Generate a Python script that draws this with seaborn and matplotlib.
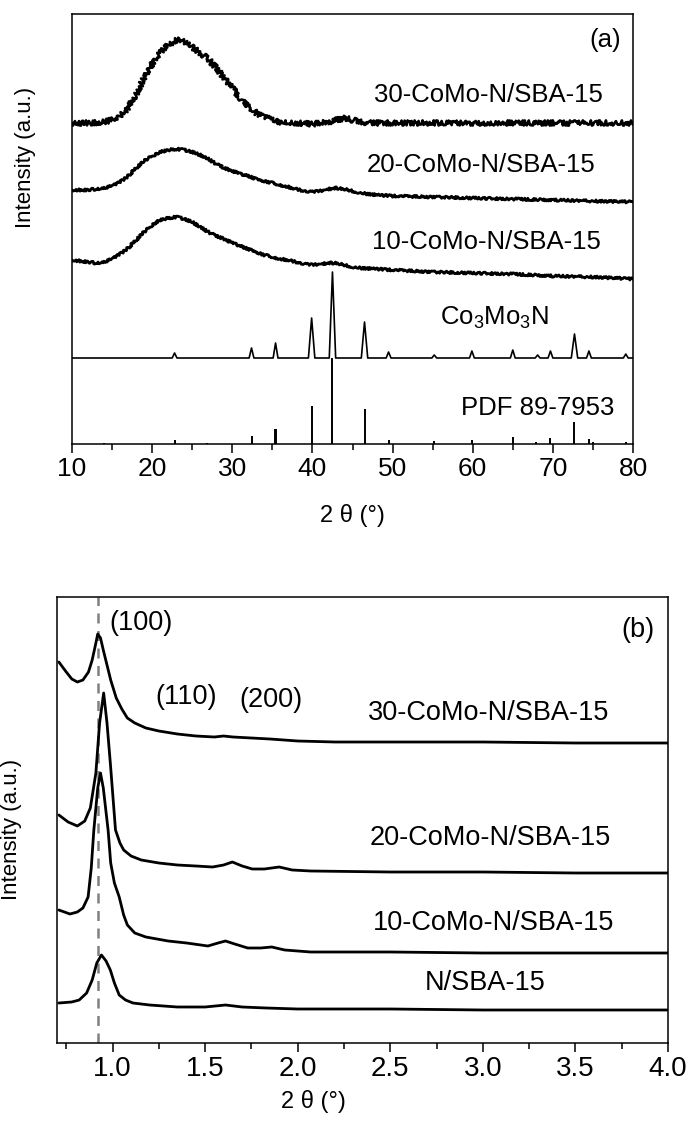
import numpy as np
import pandas as pd
import matplotlib
matplotlib.use("Agg")
import matplotlib.pyplot as plt
import seaborn as sns

# ---------------- Panel (a): wide-angle XRD (a.u.) ----------------
a_x_30 = [10, 12, 14, 15, 16, 17, 18, 19, 20, 21, 22, 23, 23.5, 24, 25, 26, 27, 28, 29, 30,
          31, 32, 33, 34, 35, 36, 38, 40, 42, 43, 44, 45, 46, 48, 50, 55, 60, 65, 70, 75, 80]
a_y_30 = [321, 321, 322, 324, 328, 336, 350, 366, 380, 391, 399, 404, 404, 402, 397, 391, 385, 376, 366, 356,
          346, 338, 331, 327, 324, 322, 321, 320, 322, 324, 326, 324, 322, 321, 321, 321, 321, 321, 321, 321, 321]

a_x_20 = [10, 12, 14, 15, 16, 17, 18, 19, 20, 21, 22, 23, 24, 25, 26, 27, 28, 29, 30, 31, 32, 33, 34,
          35, 36, 37, 38, 39, 40, 41, 42, 43, 44, 45, 46, 48, 50, 55, 60, 65, 70, 75, 80]
a_y_20 = [254, 254, 256, 258, 262, 268, 276, 283, 288, 292, 294, 295, 294, 292, 289, 285, 280, 276, 273, 270, 268, 265, 263,
          261, 259, 257, 255, 253, 252, 253, 255, 256, 255, 253, 251, 249, 248, 247, 246, 245, 244, 243, 242]

a_x_10 = [10, 12, 13, 14, 15, 16, 17, 18, 19, 20, 21, 22, 23, 24, 25, 26, 27, 28, 29, 30, 31, 32, 33, 34,
          35, 36, 37, 38, 39, 40, 41, 42, 43, 44, 45, 46, 48, 50, 55, 60, 65, 70, 75, 80]
a_y_10 = [184, 182, 181, 182, 185, 190, 196, 204, 212, 219, 224, 226, 227, 225, 222, 217, 212, 208, 205, 201, 198, 195, 192, 189,
          187, 185, 184, 182, 180, 179, 180, 181, 181, 179, 177, 176, 175, 174, 172, 171, 170, 168, 167, 165]

co_x = [10, 22.5, 22.8, 23.1, 32.1, 32.4, 32.7, 35.1, 35.4, 35.7, 39.5, 39.9, 40.3, 42.1, 42.5, 42.9,
        46.1, 46.5, 46.9, 49.2, 49.5, 49.8, 54.9, 55.2, 55.5, 59.6, 59.9, 60.2, 64.7, 65.0, 65.3,
        67.8, 68.1, 68.4, 69.4, 69.7, 70.0, 72.3, 72.7, 73.1, 74.2, 74.5, 74.8, 78.8, 79.1, 79.4, 80]
co_y = [86, 86, 91, 86, 86, 96, 86, 86, 101, 86, 86, 126, 86, 86, 172, 86,
        86, 122, 86, 86, 92, 86, 86, 89, 86, 86, 93, 86, 86, 94, 86,
        86, 89, 86, 86, 93, 86, 86, 110, 86, 86, 93, 86, 86, 90, 86, 86]

pdf_pos = [14.0, 22.8, 26.8, 32.4, 35.3, 35.5, 39.9, 42.5, 46.5, 49.5, 55.2, 59.9, 65.0, 67.9, 69.7, 72.7, 74.5, 75.0, 79.1]
pdf_h = [1, 4, 1.5, 8, 15, 15, 38, 86, 35, 4, 3, 4, 7, 2, 6, 22, 5, 2, 2]

a_labels = ["30-CoMo-N/SBA-15", "20-CoMo-N/SBA-15", "10-CoMo-N/SBA-15", "Co$_3$Mo$_3$N", "PDF 89-7953", "(a)"]
a_label_x = [62.0, 61.1, 61.7, 62.7, 68.1, 76.5]
a_label_y = [349, 279, 202, 126, 36, 404]

# ---------------- Panel (b): small-angle XRD ----------------
b_x_30 = [0.71, 0.75, 0.78, 0.81, 0.84, 0.87, 0.89, 0.91, 0.92, 0.935, 0.95, 0.97, 0.99, 1.02, 1.05, 1.08,
          1.12, 1.18, 1.25, 1.35, 1.45, 1.55, 1.6, 1.65, 1.75, 1.85, 2.0, 2.2, 2.5, 3.0, 3.5, 4.0]
b_y_30 = [381, 371, 364, 361, 363, 371, 383, 400, 409, 405, 393, 378, 363, 345, 334, 325,
          320, 315, 312, 309, 307, 306, 307, 306, 305, 304, 302, 301, 301, 301, 300, 300]

b_x_20 = [0.71, 0.76, 0.81, 0.85, 0.88, 0.91, 0.93, 0.952, 0.97, 0.988, 1.016, 1.04, 1.06, 1.1, 1.155, 1.25,
          1.35, 1.45, 1.54, 1.6, 1.647, 1.7, 1.755, 1.82, 1.9, 1.97, 2.07, 2.5, 3.0, 3.5, 4.0]
b_y_20 = [228, 221, 217, 222, 235, 270, 320, 350, 320, 280, 213, 200, 193, 187, 183, 180,
          178, 177, 176, 178, 181, 177, 174, 174, 176, 173, 172, 171, 171, 170, 170]

b_x_10 = [0.71, 0.77, 0.81, 0.84, 0.868, 0.885, 0.899, 0.92, 0.935, 0.95, 0.976, 0.99, 1.01, 1.036, 1.06, 1.08,
          1.12, 1.18, 1.3, 1.4, 1.515, 1.57, 1.61, 1.66, 1.73, 1.8, 1.86, 1.93, 2.07, 2.5, 3.0, 4.0]
b_y_10 = [133, 129, 131, 135, 146, 175, 213, 255, 270, 255, 213, 180, 160, 146, 128, 118,
          110, 106, 102, 100, 97, 100, 102, 99, 95, 95, 96, 93, 91, 91, 90, 90]

b_x_n = [0.71, 0.78, 0.82, 0.86, 0.89, 0.915, 0.94, 0.965, 0.988, 1.01, 1.036, 1.07, 1.11, 1.2, 1.35, 1.5,
         1.61, 1.7, 1.83, 2.0, 2.5, 3.0, 4.0]
b_y_n = [40, 41, 43, 50, 63, 80, 88, 82, 73, 60, 48, 43, 40, 38, 36, 36,
         38, 36, 35, 34, 34, 33, 33]

b_dash_x = 0.92
b_labels = ["(100)", "(110)", "(200)", "30-CoMo-N/SBA-15", "20-CoMo-N/SBA-15", "10-CoMo-N/SBA-15", "N/SBA-15", "(b)"]
b_label_x = [1.155, 1.395, 1.855, 3.03, 3.04, 3.06, 3.01, 3.84]
b_label_y = [420, 346, 343, 330, 205, 120, 60, 413]

# ---------------- style ----------------
sns.set_theme(style="ticks")
plt.rcParams['font.family'] = ['Liberation Sans', 'DejaVu Sans']
plt.rcParams['mathtext.fontset'] = 'custom'
plt.rcParams['mathtext.rm'] = 'Liberation Sans'
plt.rcParams['mathtext.it'] = 'Liberation Sans:italic'
plt.rcParams['text.color'] = 'black'
plt.rcParams['axes.labelcolor'] = 'black'
plt.rcParams['xtick.color'] = 'black'
plt.rcParams['ytick.color'] = 'black'

W, H = 691, 1122
fig = plt.figure(figsize=(W / 100, H / 100), dpi=100)
ax_a = fig.add_axes([72 / W, (H - 444) / H, 561 / W, 430 / H])
ax_b = fig.add_axes([57 / W, (H - 1043) / H, 611 / W, 446 / H])


def style_axes(ax, tick_fs):
    for s in ax.spines.values():
        s.set_visible(True)
        s.set_color('black')
        s.set_linewidth(1.1)
    ax.set_yticks([])
    ax.tick_params(axis='x', which='major', direction='out', length=6.5, width=1.1,
                   labelsize=tick_fs, colors='black', labelcolor='black', pad=3)
    ax.tick_params(axis='x', which='minor', direction='out', length=4.3, width=1.1, colors='black')


def line(ax, xs, ys, lw, sketch=None):
    df = pd.DataFrame({"x": xs, "y": ys})
    sns.lineplot(data=df, x="x", y="y", ax=ax, color="black", lw=lw, sort=False, estimator=None)
    ln = ax.get_lines()[-1]
    if sketch is not None:
        ln.set_sketch_params(*sketch)
    return ln


# panel (a)
line(ax_a, a_x_30, a_y_30, 1.9, sketch=(2.6, 1.5, 3.0))
line(ax_a, a_x_20, a_y_20, 2.0, sketch=(1.2, 2.0, 3.0))
line(ax_a, a_x_10, a_y_10, 2.0, sketch=(1.2, 2.0, 3.0))
line(ax_a, co_x, co_y, 1.2)
ax_a.vlines(pdf_pos, 0, pdf_h, colors="black", lw=1.4)

ax_a.set_xlim(10, 80)
ax_a.set_ylim(0, 430)
ax_a.set_xticks(np.arange(10, 81, 10))
ax_a.set_xticks(np.arange(15, 80, 10), minor=True)
style_axes(ax_a, 19)
ax_a.set_xlabel("2 θ (°)", fontsize=17, color="black")
ax_a.set_ylabel("Intensity (a.u.)", fontsize=16, color="black")
ax_a.xaxis.set_label_coords(0.5, -0.140)
ax_a.yaxis.set_label_coords(-0.064, 0.667)
for t, x, y in zip(a_labels, a_label_x, a_label_y):
    ax_a.text(x, y, t, ha="center", va="center", fontsize=18.5, color="black")

# panel (b)
ax_b.axvline(b_dash_x, color="#808080", lw=1.8, ls=(0, (4, 3)))
line(ax_b, b_x_30, b_y_30, 2.0)
line(ax_b, b_x_20, b_y_20, 2.0)
line(ax_b, b_x_10, b_y_10, 2.0)
line(ax_b, b_x_n, b_y_n, 2.0)

ax_b.set_xlim(0.7, 4.0)
ax_b.set_ylim(0, 446)
ax_b.set_xticks(np.arange(1.0, 4.01, 0.5))
ax_b.set_xticklabels([f"{v:.1f}" for v in np.arange(1.0, 4.01, 0.5)])
ax_b.set_xticks(np.arange(0.75, 4.0, 0.5), minor=True)
style_axes(ax_b, 20)
ax_b.set_xlabel("2 θ (°)", fontsize=17, color="black")
ax_b.set_ylabel("Intensity (a.u.)", fontsize=16, color="black")
ax_b.xaxis.set_label_coords(0.419, -0.105)
ax_b.yaxis.set_label_coords(-0.058, 0.478)
for t, x, y in zip(b_labels, b_label_x, b_label_y):
    ax_b.text(x, y, t, ha="center", va="center", fontsize=19.5, color="black")

fig.savefig("out.png", dpi=100, facecolor="white")
